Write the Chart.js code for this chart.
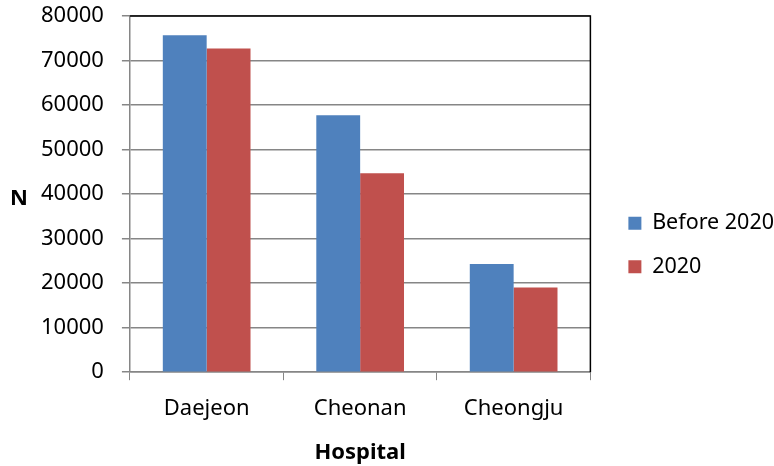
<!DOCTYPE html>
<html>
<head>
<meta charset="utf-8">
<script src="https://cdn.jsdelivr.net/npm/chart.js@4/dist/chart.umd.min.js"></script>
<style>
  html, body { margin: 0; padding: 0; background: #fff; }
  #wrap { width: 774px; height: 466px; }
</style>
</head>
<body>
<div id="wrap"><canvas id="c" width="774" height="466"></canvas></div>
<script>
const categories = ['Daejeon', 'Cheonan', 'Cheongju'];
const before2020 = [75700, 57700, 24300];
const year2020 = [72700, 44700, 19000];
const seriesNames = ['Before 2020', '2020'];
const yTicks = [0, 10000, 20000, 30000, 40000, 50000, 60000, 70000, 80000];

const FONT = '"Noto Sans", "DejaVu Sans", sans-serif';
const AXIS_GRAY = '#868686';
const LEGEND_SHIFT_X = 16;
const LEGEND_SHIFT_Y = 4;

// Black frame on the top and right of the plot area, the horizontal "N" label,
// and a small nudge of the legend away from the plot
const framePlugin = {
  id: 'frame',
  afterLayout(chart) {
    const lg = chart.legend;
    if (lg) {
      lg.left += LEGEND_SHIFT_X; lg.right += LEGEND_SHIFT_X;
      lg.top += LEGEND_SHIFT_Y; lg.bottom += LEGEND_SHIFT_Y;
    }
  },
  afterDatasetsDraw(chart) {
    const { ctx, chartArea: a } = chart;
    ctx.save();
    ctx.strokeStyle = '#000';
    ctx.lineWidth = 1.5;
    ctx.beginPath();
    ctx.moveTo(a.left, a.top);
    ctx.lineTo(a.right, a.top);
    ctx.lineTo(a.right, a.bottom);
    ctx.stroke();
    ctx.restore();
  },
  afterDraw(chart) {
    const { ctx, chartArea: a } = chart;
    ctx.save();
    ctx.font = 'bold 22px ' + FONT;
    ctx.fillStyle = '#000';
    ctx.textAlign = 'center';
    ctx.textBaseline = 'middle';
    ctx.fillText('N', 19, (a.top + a.bottom) / 2 + 5);
    ctx.restore();
  }
};

new Chart(document.getElementById('c'), {
  type: 'bar',
  data: {
    labels: categories,
    datasets: [
      { label: seriesNames[0], data: before2020, backgroundColor: '#4F81BD', borderWidth: 0 },
      { label: seriesNames[1], data: year2020, backgroundColor: '#C0504D', borderWidth: 0 }
    ]
  },
  options: {
    responsive: false,
    animation: false,
    devicePixelRatio: 1,
    categoryPercentage: 2 / 3.5,
    barPercentage: 1,
    layout: { padding: { left: 23, top: 16, right: 6, bottom: 0 } },
    plugins: {
      tooltip: { enabled: false },
      legend: {
        position: 'right',
        align: 'center',
        labels: {
          font: { family: FONT, size: 21.5 },
          color: '#000',
          boxWidth: 13,
          boxHeight: 13,
          padding: 22
        }
      }
    },
    scales: {
      x: {
        offset: true,
        grid: {
          offset: true,
          drawOnChartArea: false,
          drawTicks: true,
          tickLength: 8,
          color: AXIS_GRAY
        },
        border: { color: AXIS_GRAY, width: 1.5 },
        ticks: { font: { family: FONT, size: 22 }, color: '#000', padding: 15 },
        title: {
          display: true,
          text: 'Hospital',
          font: { family: FONT, size: 22, weight: 'bold' },
          color: '#000',
          padding: { top: 3, bottom: 0 }
        }
      },
      y: {
        min: 0,
        max: 80000,
        afterBuildTicks(scale) { scale.ticks = yTicks.map(v => ({ value: v })); },
        afterFit(scale) { scale.paddingTop = 0; scale.paddingBottom = 0; },
        grid: { color: AXIS_GRAY, lineWidth: 1.5, tickLength: 8 },
        border: { color: AXIS_GRAY, width: 1.5 },
        ticks: {
          font: { family: FONT, size: 22 },
          color: '#000',
          padding: 18,
          callback: v => String(v)
        }
      }
    }
  },
  plugins: [framePlugin]
});
</script>
</body>
</html>
